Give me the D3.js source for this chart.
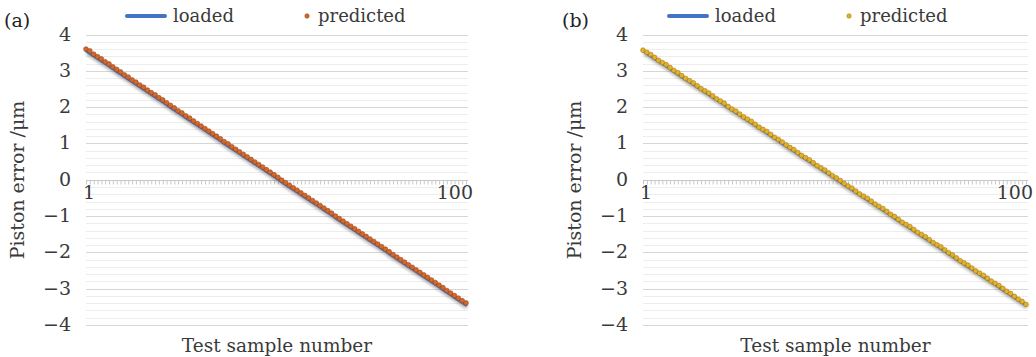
<!DOCTYPE html>
<html>
<head>
<meta charset="utf-8">
<script src="https://cdn.jsdelivr.net/npm/d3@7"></script>
<style>
  body { margin: 0; background: #fff; }
  text { font-family: "DejaVu Serif", "Liberation Serif", "Times New Roman", Times, serif; }
</style>
</head>
<body>
<svg id="chart" width="1036" height="357"></svg>
<script>
//----------------------------------------------------------- DATA
var yTicks = [4, 3, 2, 1, 0, -1, -2, -3, -4];
var xTickLabels = ["1", "100"];
var seriesNames = ["loaded", "predicted"];

var loaded = [
  3.55, 3.48, 3.41, 3.34, 3.27, 3.20, 3.13, 3.06, 2.98, 2.91,
  2.84, 2.77, 2.70, 2.63, 2.56, 2.49, 2.42, 2.35, 2.28, 2.21,
  2.14, 2.07, 1.99, 1.92, 1.85, 1.78, 1.71, 1.64, 1.57, 1.50,
  1.43, 1.36, 1.29, 1.22, 1.15, 1.08, 1.00, 0.93, 0.86, 0.79,
  0.72, 0.65, 0.58, 0.51, 0.44, 0.37, 0.30, 0.23, 0.16, 0.09,
  0.02, -0.06, -0.13, -0.20, -0.27, -0.34, -0.41, -0.48, -0.55, -0.62,
  -0.69, -0.76, -0.83, -0.90, -0.97, -1.05, -1.12, -1.19, -1.26, -1.33,
  -1.40, -1.47, -1.54, -1.61, -1.68, -1.75, -1.82, -1.89, -1.96, -2.04,
  -2.11, -2.18, -2.25, -2.32, -2.39, -2.46, -2.53, -2.60, -2.67, -2.74,
  -2.81, -2.88, -2.95, -3.03, -3.10, -3.17, -3.24, -3.31, -3.38, -3.45
];

var predictedA = [
  3.57, 3.52, 3.43, 3.36, 3.30, 3.22, 3.16, 3.08, 3.01, 2.94,
  2.86, 2.80, 2.72, 2.66, 2.58, 2.52, 2.44, 2.37, 2.31, 2.23,
  2.17, 2.09, 2.02, 1.95, 1.87, 1.81, 1.73, 1.67, 1.59, 1.52,
  1.45, 1.38, 1.31, 1.24, 1.17, 1.10, 1.02, 0.96, 0.88, 0.81,
  0.74, 0.67, 0.60, 0.53, 0.46, 0.39, 0.32, 0.25, 0.18, 0.11,
  0.04, -0.04, -0.11, -0.18, -0.25, -0.32, -0.39, -0.46, -0.53, -0.60,
  -0.67, -0.74, -0.81, -0.88, -0.95, -1.03, -1.10, -1.17, -1.24, -1.31,
  -1.38, -1.45, -1.52, -1.59, -1.66, -1.73, -1.80, -1.87, -1.94, -2.01,
  -2.09, -2.16, -2.23, -2.30, -2.37, -2.44, -2.51, -2.58, -2.65, -2.72,
  -2.79, -2.86, -2.93, -3.00, -3.08, -3.15, -3.22, -3.29, -3.36, -3.42
];

var predictedB = [
  3.54, 3.48, 3.42, 3.34, 3.26, 3.20, 3.14, 3.06, 2.98, 2.92,
  2.84, 2.76, 2.70, 2.64, 2.56, 2.48, 2.42, 2.36, 2.28, 2.20,
  2.14, 2.08, 1.99, 1.92, 1.86, 1.78, 1.70, 1.64, 1.58, 1.50,
  1.42, 1.36, 1.30, 1.22, 1.14, 1.08, 1.01, 0.93, 0.86, 0.80,
  0.72, 0.64, 0.58, 0.52, 0.44, 0.36, 0.30, 0.24, 0.16, 0.08,
  0.02, -0.05, -0.13, -0.20, -0.26, -0.34, -0.42, -0.48, -0.54, -0.62,
  -0.70, -0.76, -0.82, -0.90, -0.98, -1.04, -1.12, -1.20, -1.26, -1.32,
  -1.40, -1.48, -1.54, -1.60, -1.68, -1.76, -1.82, -1.88, -1.96, -2.04,
  -2.10, -2.18, -2.26, -2.32, -2.38, -2.46, -2.54, -2.60, -2.66, -2.74,
  -2.82, -2.88, -2.94, -3.02, -3.10, -3.16, -3.24, -3.32, -3.38, -3.46
];

//----------------------------------------------------------- PANEL
var svg = d3.select("#chart");

var defs = svg.append("defs");
defs.append("filter").attr("id", "soft").attr("x", "-10%").attr("y", "-10%")
    .attr("width", "120%").attr("height", "120%")
  .append("feGaussianBlur").attr("stdDeviation", 1.6);

function drawPanel(opt) {
  var g = svg.append("g").attr("transform", "translate(" + opt.dx + ",0)");
  var cats = d3.range(1, loaded.length + 1);

  var x = d3.scalePoint().domain(cats).range([opt.x0, opt.x1]);
  var y = d3.scaleLinear().domain([-4, 4]).range([325, 34.5]);

  // gridlines, minor every 0.2
  var minor = d3.range(-40, 41, 2).map(function (v) { return v / 10; });
  g.append("g").selectAll("line").data(minor).enter().append("line")
    .attr("x1", opt.x0).attr("x2", opt.gx1)
    .attr("y1", function (d) { return Math.round(y(d)) + 0.5; })
    .attr("y2", function (d) { return Math.round(y(d)) + 0.5; })
    .attr("stroke", function (d) { return Math.abs(d - Math.round(d)) < 1e-6 ? "#d6d6d6" : "#ededed"; })
    .attr("stroke-width", 1);

  // category axis at zero, one tick per sample
  var ax = g.append("g").attr("transform", "translate(0," + (Math.round(y(0)) + 0.5) + ")");
  ax.call(d3.axisBottom(x).tickSize(4).tickFormat(""));
  ax.select(".domain").attr("stroke", "#c8c8c8").attr("d", "M" + opt.x0 + ",0H" + opt.gx1);
  ax.selectAll(".tick line").attr("stroke", "#c8c8c8");

  g.append("g").selectAll("text").data(xTickLabels).enter().append("text")
    .attr("x", function (d) { return x(+d); })
    .attr("y", 199)
    .attr("text-anchor", function (d, i) { return i === 0 ? "start" : "end"; })
    .attr("dx", function (d, i) { return i === 0 ? -3 : 7; })
    .attr("font-size", 19).attr("fill", "#3a3a3a")
    .text(function (d) { return d; });

  // y tick labels
  g.append("g").selectAll("text").data(yTicks).enter().append("text")
    .attr("x", opt.x0 - 15)
    .attr("y", function (d) { return y(d) + 6; })
    .attr("text-anchor", "end")
    .attr("font-size", 19).attr("fill", "#3a3a3a")
    .text(function (d) { return d < 0 ? "\u2212" + (-d) : d; });

  // loaded line with soft shadow
  var line = d3.line().x(function (d, i) { return x(cats[i]); }).y(function (d) { return y(d); });
  g.append("path").datum(loaded).attr("d", line)
    .attr("fill", "none").attr("stroke", "#555").attr("stroke-opacity", 0.5)
    .attr("stroke-width", 4).attr("filter", "url(#soft)")
    .attr("transform", "translate(1,2)");
  g.append("path").datum(loaded).attr("d", line)
    .attr("fill", "none").attr("stroke", "#4472c4").attr("stroke-width", 3)
    .attr("stroke-linejoin", "round").attr("stroke-linecap", "round");

  // predicted markers
  g.append("g").selectAll("circle").data(opt.predicted).enter().append("circle")
    .attr("cx", function (d, i) { return x(cats[i]); })
    .attr("cy", function (d) { return y(d) - 1; })
    .attr("r", 2.4)
    .attr("fill", opt.dot).attr("stroke", opt.dotEdge).attr("stroke-width", 0.6);

  // legend
  var lg = g.append("g");
  lg.append("line").attr("x1", opt.legX).attr("x2", opt.legX + 38)
    .attr("y1", 16).attr("y2", 16)
    .attr("stroke", "#4472c4").attr("stroke-width", 4).attr("stroke-linecap", "round");
  lg.append("text").attr("x", opt.legX + 46).attr("y", 22)
    .attr("font-size", 18).attr("fill", "#3a3a3a").text(seriesNames[0]);
  lg.append("circle").attr("cx", opt.legX + 180).attr("cy", 16).attr("r", 2.2)
    .attr("fill", opt.dot).attr("stroke", opt.dotEdge).attr("stroke-width", 0.6);
  lg.append("text").attr("x", opt.legX + 191).attr("y", 22)
    .attr("font-size", 18).attr("fill", "#3a3a3a").text(seriesNames[1]);

  // titles
  g.append("text").attr("x", opt.tag).attr("y", 27)
    .attr("font-size", 19).attr("fill", "#222").text(opt.label);
  g.append("text")
    .attr("transform", "translate(" + (opt.x0 - 62) + ",180) rotate(-90)")
    .attr("text-anchor", "middle").attr("font-size", 19).attr("fill", "#3a3a3a")
    .text("Piston error /\u03bcm");
  g.append("text").attr("x", (opt.x0 + opt.gx1) / 2).attr("y", 352)
    .attr("text-anchor", "middle").attr("font-size", 18.5).attr("fill", "#3a3a3a")
    .text("Test sample number");
}

drawPanel({dx: 0, x0: 86, x1: 466, gx1: 468, predicted: predictedA,
  dot: "#d2692c", dotEdge: "#9c4515", legX: 127, tag: 4, label: "(a)"});
drawPanel({dx: 557, x0: 86, x1: 469, gx1: 471, predicted: predictedB,
  dot: "#e2b02a", dotEdge: "#a87d10", legX: 112, tag: 5, label: "(b)"});
</script>
</body>
</html>
